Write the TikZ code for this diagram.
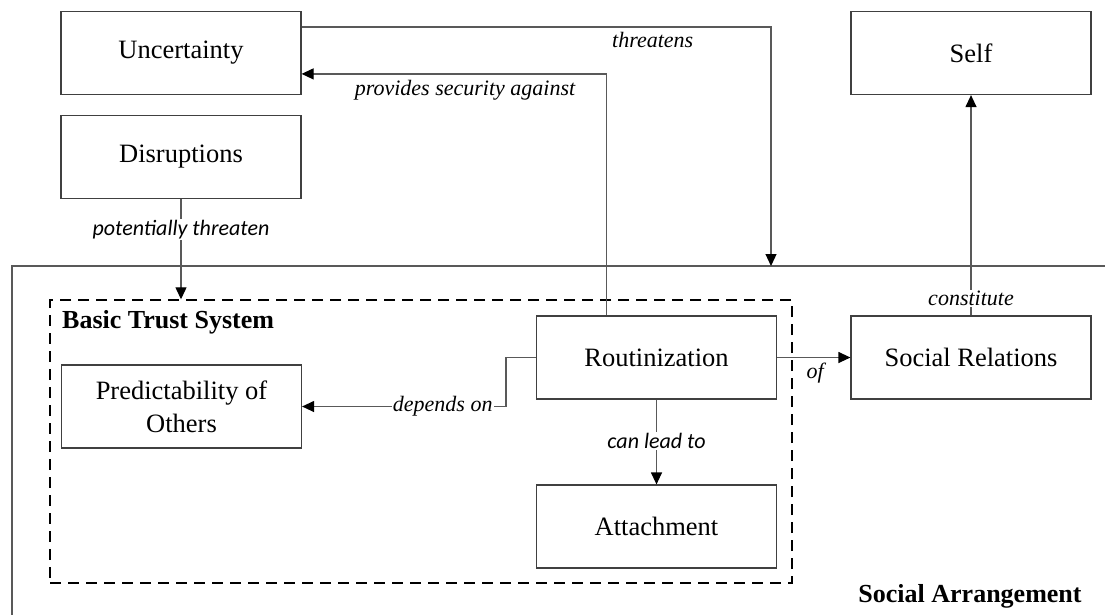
\documentclass[tikz,border=0pt]{standalone}
\usepackage{fontspec}
\setmainfont{Liberation Serif}
\newfontfamily\lblsans{Carlito}
\usetikzlibrary{arrows.meta}
\begin{document}
\begin{tikzpicture}[x=1pt,y=-1pt,
  box/.style={draw=black!75, line width=1.2pt, minimum width=240pt, minimum height=83pt,
              inner sep=0pt, align=center, font=\fontsize{26.5}{33}\selectfont},
  conn/.style={draw=black!65, line width=1.2pt},
  arr/.style={conn, -{Triangle[length=12pt,width=11pt,color=black]}},
  lbl/.style={font=\fontsize{22}{26}\selectfont\itshape, inner sep=1pt},
  lblsf/.style={font=\fontsize{22}{26}\selectfont\lblsans\itshape, inner sep=1pt},
  onln/.style={fill=white},
  head/.style={font=\fontsize{26}{30}\selectfont\bfseries, inner sep=0pt},
  trustbox/.style={draw=black, line width=1.4pt, dash pattern=on 11pt off 7pt,
                   minimum width=742pt, minimum height=283pt, inner sep=0pt}
]
\useasboundingbox (0,0) rectangle (1105,614);
\clip (0,0) rectangle (1105,614);

% social arrangement frame (runs off the right and bottom edges)
\draw[conn] (12,640) -- (12,266) -- (1130,266);
\coordinate (satop) at (771,266);
\node[head] (salbl) at (970,596) {Social Arrangement};

% basic trust system
\node[trustbox] (bts) at (421,441.5) {};
\node[head, anchor=west] (btslbl) at (62,322) {Basic Trust System};

% concepts
\node[box] (unc)  at (181,53)    {Uncertainty};
\node[box] (dis)  at (181,157)   {Disruptions};
\node[box] (self) at (971,53)    {Self};
\node[box] (rout) at (656.5,357.5) {Routinization};
\node[box] (soc)  at (971,357.5) {Social Relations};
\node[box] (pred) at (181.5,406.5) {Predictability of\\Others};
\node[box] (att)  at (656.5,526.5) {Attachment};

% connectors
\draw[arr] ([yshift=-16pt]unc.north east) -| node[lbl, below=4pt, pos=0.374] {threatens} (satop);
\draw[arr] ([xshift=-50pt]rout.north) |- node[lbl, below=5pt, pos=0.732] {provides security against} ([yshift=-63pt]unc.north east);
\draw[arr] (dis.south) -- node[lblsf, onln, pos=0.30] {potentially threaten} (dis.south |- bts.north);
\draw[arr] (rout.west) -- ++(-30pt,0) |- node[lbl, onln, pos=0.655] {depends on} (pred.east);
\draw[arr] (rout.south) -- node[lblsf, onln, pos=0.49] {can lead to} (att.north);
\draw[arr] (rout.east) -- node[lbl, below=4pt, pos=0.52] {of} (soc.west);
\draw[arr] (soc.north) -- node[lbl, onln, pos=0.077] {constitute} (self.south);
\end{tikzpicture}
\end{document}
